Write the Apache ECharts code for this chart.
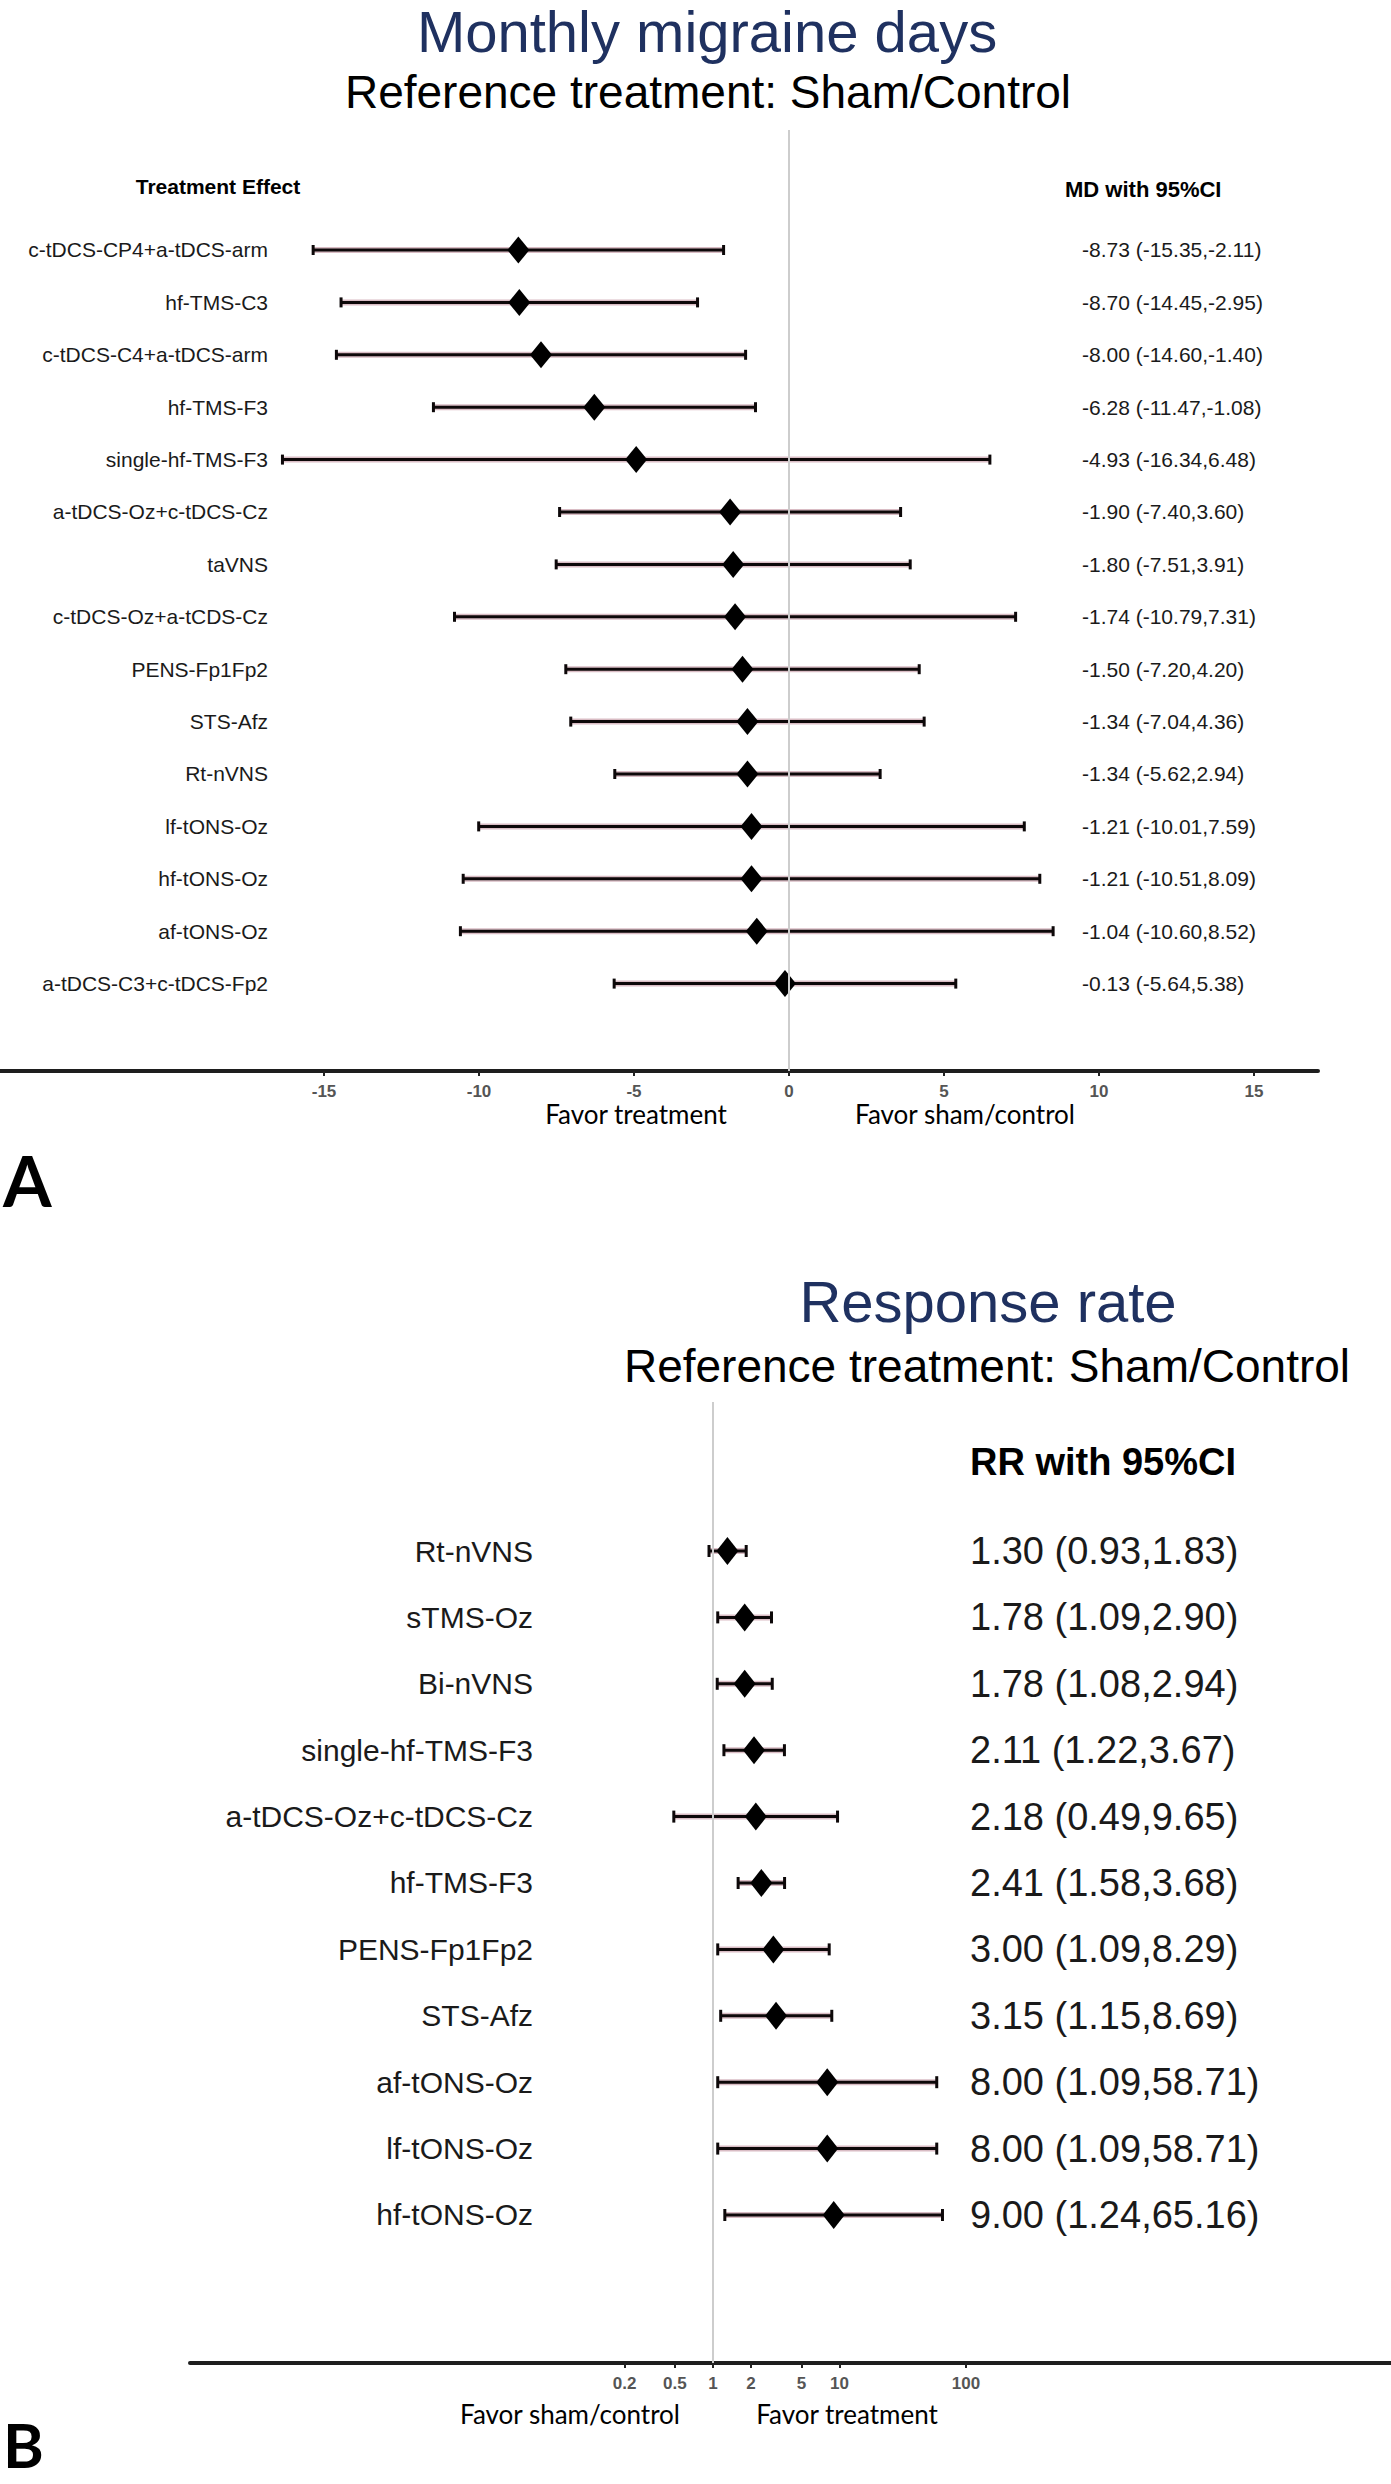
<!DOCTYPE html>
<html><head><meta charset="utf-8">
<script src="https://cdn.jsdelivr.net/npm/echarts@6/dist/echarts.min.js"></script>
<style>html,body{margin:0;padding:0;background:#fff}#c{width:1391px;height:2484px}</style>
</head><body><div id="c"></div>
<script>
// ---------- Panel A data: Monthly migraine days (MD with 95% CI) ----------
const mdTreatments = ['c-tDCS-CP4+a-tDCS-arm','hf-TMS-C3','c-tDCS-C4+a-tDCS-arm','hf-TMS-F3','single-hf-TMS-F3','a-tDCS-Oz+c-tDCS-Cz','taVNS','c-tDCS-Oz+a-tCDS-Cz','PENS-Fp1Fp2','STS-Afz','Rt-nVNS','lf-tONS-Oz','hf-tONS-Oz','af-tONS-Oz','a-tDCS-C3+c-tDCS-Fp2'];
const mdEst = [-8.73,-8.70,-8.00,-6.28,-4.93,-1.90,-1.80,-1.74,-1.50,-1.34,-1.34,-1.21,-1.21,-1.04,-0.13];
const mdLo  = [-15.35,-14.45,-14.60,-11.47,-16.34,-7.40,-7.51,-10.79,-7.20,-7.04,-5.62,-10.01,-10.51,-10.60,-5.64];
const mdHi  = [-2.11,-2.95,-1.40,-1.08,6.48,3.60,3.91,7.31,4.20,4.36,2.94,7.59,8.09,8.52,5.38];
const mdTicks = [-15,-10,-5,0,5,10,15];

// ---------- Panel B data: Response rate (RR with 95% CI) ----------
const rrTreatments = ['Rt-nVNS','sTMS-Oz','Bi-nVNS','single-hf-TMS-F3','a-tDCS-Oz+c-tDCS-Cz','hf-TMS-F3','PENS-Fp1Fp2','STS-Afz','af-tONS-Oz','lf-tONS-Oz','hf-tONS-Oz'];
const rrEst = [1.30,1.78,1.78,2.11,2.18,2.41,3.00,3.15,8.00,8.00,9.00];
const rrLo  = [0.93,1.09,1.08,1.22,0.49,1.58,1.09,1.15,1.09,1.09,1.24];
const rrHi  = [1.83,2.90,2.94,3.67,9.65,3.68,8.29,8.69,58.71,58.71,65.16];
const rrTicks = [0.2,0.5,1,2,5,10,100];

const SANS = "'Liberation Sans', Arial, Helvetica, sans-serif";
const CAL = "Lato, 'Open Sans', sans-serif";
const fmt = (e,l,h) => `${e.toFixed(2)} (${l.toFixed(2)},${h.toFixed(2)})`;
const idx = n => n.map((_, i) => i);

function barRenderer(capH) {
  return function (params, api) {
    const row = api.value(0);
    const p1 = api.coord([api.value(1), row]);
    const p2 = api.coord([api.value(2), row]);
    const ink = '#0d0809';
    const seg = (a, b, c, d, stroke, w) => ({type: 'line', shape: {x1: a, y1: b, x2: c, y2: d}, style: {stroke, lineWidth: w}});
    return {type: 'group', children: [
      seg(p1[0], p1[1], p2[0], p2[1], '#d9bcc4', 6),
      seg(p1[0], p1[1], p2[0], p2[1], ink, 3),
      seg(p1[0], p1[1] - capH / 2, p1[0], p1[1] + capH / 2, ink, 3),
      seg(p2[0], p2[1] - capH / 2, p2[0], p2[1] + capH / 2, ink, 3)
    ]};
  };
}

function xAxisBase(gridIndex, type, min, max, ticks) {
  return {
    type, gridIndex, min, max, logBase: 10,
    splitLine: {show: false},
    axisLine: {show: true, onZero: false, lineStyle: {color: '#1e1e1e', width: 4}},
    axisTick: {show: true, customValues: ticks, length: 5, lineStyle: {color: '#222', width: 2}},
    axisLabel: {customValues: ticks, margin: 12, fontFamily: SANS, fontSize: 17, fontWeight: 'bold', color: '#555',
      formatter: v => String(v)}
  };
}

function yAxes(gridIndex, min, max, names, leftOffset, rightOffset, labelSize, valueSize, values) {
  const common = {type: 'value', gridIndex, min, max, inverse: true, splitLine: {show: false},
    axisLine: {show: false}, axisTick: {show: false}};
  return [
    Object.assign({}, common, {position: 'left', offset: leftOffset,
      axisLabel: {customValues: idx(names), margin: 0, fontFamily: SANS, fontSize: labelSize, color: '#1a1a1a',
        formatter: v => names[Math.round(v)]}}),
    Object.assign({}, common, {position: 'right', offset: rightOffset,
      axisLabel: {customValues: idx(names), margin: 0, fontFamily: SANS, fontSize: valueSize, color: '#1a1a1a',
        formatter: v => values[Math.round(v)]}})
  ];
}

const mdText = mdEst.map((e, i) => fmt(e, mdLo[i], mdHi[i]));
const rrText = rrEst.map((e, i) => fmt(e, rrLo[i], rrHi[i]));

function txt(x, y, text, o) {
  return Object.assign({type: 'text', x, y, silent: true, style: Object.assign({
    text, fill: '#000', fontFamily: SANS, fontSize: 20,
    align: 'center', textAlign: 'center', verticalAlign: 'middle', textVerticalAlign: 'middle'
  }, o.style)}, o.el || {});
}

const option = {
  animation: false,
  backgroundColor: '#fff',
  grid: [
    {left: 0, top: 130, width: 1318, height: 941},
    {left: 190, top: 1402, width: 1201, height: 961}
  ],
  xAxis: [
    xAxisBase(0, 'value', -789 / 31, 529 / 31, mdTicks),
    xAxisBase(1, 'log', Math.pow(10, (190 - 713) / 126.5), Math.pow(10, (1391 - 713) / 126.5), rrTicks)
  ],
  yAxis: [
    ...yAxes(0, -2.29, 15.668, mdTreatments, -268, -236, 21, 21, mdText),
    ...yAxes(1, -2.244, 12.229, rrTreatments, -343, -421, 30, 38, rrText)
  ],
  series: [
    {type: 'line', xAxisIndex: 0, yAxisIndex: 0, data: [], z: 0, silent: true,
      markLine: {silent: true, symbol: ['none', 'none'], label: {show: false},
        lineStyle: {color: '#cdcdcd', width: 2, type: 'solid'}, data: [{xAxis: 0}]}},
    {type: 'line', xAxisIndex: 1, yAxisIndex: 2, data: [], z: 0, silent: true,
      markLine: {silent: true, symbol: ['none', 'none'], label: {show: false},
        lineStyle: {color: '#cdcdcd', width: 2, type: 'solid'}, data: [{xAxis: 1}]}},
    {type: 'custom', xAxisIndex: 0, yAxisIndex: 0, z: 2, renderItem: barRenderer(10),
      encode: {x: [1, 2], y: 0},
      data: mdTreatments.map((_, i) => [i, mdLo[i], mdHi[i]])},
    {type: 'custom', xAxisIndex: 1, yAxisIndex: 2, z: 2, renderItem: barRenderer(12),
      encode: {x: [1, 2], y: 0},
      data: rrTreatments.map((_, i) => [i, rrLo[i], rrHi[i]])},
    {type: 'scatter', xAxisIndex: 0, yAxisIndex: 0, z: 3, symbol: 'diamond', symbolSize: [22, 27],
      itemStyle: {color: '#000', opacity: 1}, data: mdEst.map((v, i) => [v, i])},
    {type: 'scatter', xAxisIndex: 1, yAxisIndex: 2, z: 3, symbol: 'diamond', symbolSize: [22, 28],
      itemStyle: {color: '#000', opacity: 1}, data: rrEst.map((v, i) => [v, i])}
  ],
  graphic: [
    txt(707, 31, 'Monthly migraine days', {style: {fontSize: 58, fill: '#1f3160'}}),
    txt(708, 92, 'Reference treatment: Sham/Control', {style: {fontSize: 46}}),
    txt(218, 186, 'Treatment Effect', {style: {fontSize: 21, fontWeight: 'bold'}}),
    txt(1065, 189, 'MD with 95%CI', {style: {fontSize: 22, fontWeight: 'bold', align: 'left', textAlign: 'left'}}),
    txt(636, 1114, 'Favor treatment', {style: {fontFamily: CAL, fontSize: 26}}),
    txt(965, 1114, 'Favor sham/control', {style: {fontFamily: CAL, fontSize: 26}}),
    txt(3, 1180, 'A', {style: {fontFamily: CAL, fontSize: 70, fontWeight: 'bold', align: 'left', textAlign: 'left'}}),
    txt(988, 1301, 'Response rate', {style: {fontSize: 58, fill: '#1f3160'}}),
    txt(987, 1366, 'Reference treatment: Sham/Control', {style: {fontSize: 46}}),
    txt(970, 1462, 'RR with 95%CI', {style: {fontSize: 38, fontWeight: 'bold', align: 'left', textAlign: 'left'}}),
    txt(570, 2414, 'Favor sham/control', {style: {fontFamily: CAL, fontSize: 26}}),
    txt(847, 2414, 'Favor treatment', {style: {fontFamily: CAL, fontSize: 26}}),
    txt(3, 2444, 'B', {style: {fontFamily: CAL, fontSize: 62, fontWeight: 'bold', align: 'left', textAlign: 'left'}})
  ]
};

const chart = echarts.init(document.getElementById('c'), null, {renderer: 'svg', width: 1391, height: 2484});
chart.setOption(option);
</script>
</body></html>
